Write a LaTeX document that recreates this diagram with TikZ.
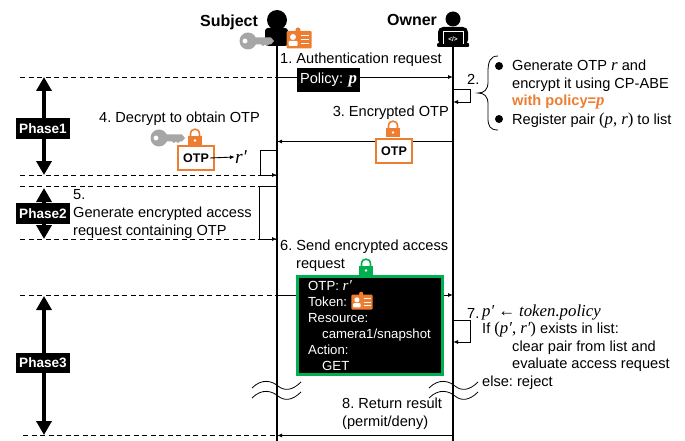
\documentclass[tikz,border=0pt]{standalone}
\usepackage{fontspec}
\setmainfont{Liberation Sans}
\newfontfamily\varfont[Scale=1.15]{Liberation Serif}
\usetikzlibrary{arrows.meta,positioning}

\newcommand{\mvar}[1]{{\varfont\itshape #1}}
\newcommand{\mrm}[1]{{\varfont #1}}

\definecolor{otporange}{HTML}{ED7D31}
\definecolor{reqgreen}{HTML}{00B050}
\definecolor{keygray}{HTML}{A6A6A6}

\tikzset{
    pics/lockpic/.style={code={
        \draw[#1,line width=1.6pt] (-4.5,0) -- (-4.5,-3) .. controls (-4.5,-9.5) and (4.5,-9.5) .. (4.5,-3) -- (4.5,0);
        \fill[#1] (-7,-1) rectangle (7,8);
        \fill[white] (0,3.5) circle (1.3);
    }},
    pics/keypic/.style={code={
        \fill[keygray,even odd rule] (0,0) circle (8.5) (-3,0) circle (2.6);
        \fill[keygray] (6,-3.5) -- (23,-3.5) -- (26,0) -- (23,3.5) -- (21,3.5) -- (19,5) -- (17,3.5) -- (15,5) -- (13,3.5) -- (6,3.5) -- cycle;
    }},
    pics/cardpic/.style={code={
        \fill[otporange,rounded corners=1pt] (-12.5,-8) rectangle (12.5,9.5);
        \fill[otporange] (-1,-9) circle (2.5);
        \fill[white] (-6,-2) circle (3);
        \fill[white,rounded corners=1pt] (-10.5,7) rectangle (-1.5,2);
        \draw[white,line width=1pt] (2,-3) -- (10,-3) (2,1) -- (10,1) (2,5) -- (10,5);
    }},
    pics/wavepic/.style={code={
        \draw[line width=.8pt] (-25,3) .. controls (-15,-7) and (-5,-4) .. (1,1) .. controls (7,6) and (15,6) .. (24,-3);
        \draw[line width=.8pt] (-25,13) .. controls (-15,3) and (-5,6) .. (1,11) .. controls (7,16) and (15,16) .. (24,7);
    }}
}

\begin{document}
\begin{tikzpicture}[
        x = 1pt, y = -1pt, % same units as the reference
        > = {Latex[length=5pt,width=4pt]},
        lifeline/.style = {line width=2.2pt},
        msg/.style = {line width=.9pt},
        phaseline/.style = {dashed,dash pattern=on 5pt off 3.5pt,line width=.8pt},
        phasearrow/.style = {line width=3.5pt,{Triangle[width=15pt,length=14pt]}-{Triangle[width=15pt,length=14pt]}},
        phaselabel/.style = {fill=black,text=white,font=\fontsize{13.6}{15}\selectfont\bfseries,minimum width=54pt,minimum height=20.5pt,inner sep=0pt},
        txt/.style = {anchor=west,inner sep=0pt,align=left,font=\fontsize{14.6}{17.6}\selectfont\frenchspacing},
        actor/.style = {inner sep=0pt,font=\fontsize{16}{18}\selectfont\bfseries},
        otpbox/.style = {draw=otporange,line width=1.5pt,fill=white,minimum width=36pt,minimum height=24pt,inner sep=0pt,font=\fontsize{12.5}{15}\selectfont\bfseries}
    ]

    \useasboundingbox (0,0) rectangle (685,441);

    % lifelines
    \coordinate (subjtop) at (277,46);
    \coordinate (subjend) at (277,441);
    \coordinate (owntop) at (453,46);
    \coordinate (ownend) at (453,441);
    \draw[lifeline] (subjtop) -- (subjend);
    \draw[lifeline] (owntop) -- (ownend);

    \node[actor] (subject) at (229,22) {Subject};
    \node[actor] (owner) at (412,20) {Owner};

    % subject icon
    \fill (277,20) circle (10);
    \fill[rounded corners=3pt] (265,46) -- (265,28) -- (288,28) -- (288,46) -- cycle;
    \pic at (248,41) {keypic};
    \pic at (299,39) {cardpic};

    % owner icon
    \fill (453,19) circle (7.5);
    \fill[rounded corners=5pt] (438,45) -- (438,27) -- (468,27) -- (468,45) -- cycle;
    \fill[rounded corners=1pt] (437,43) rectangle (469,47);
    \draw[white,line width=.7pt] (443,44) -- (443,31) -- (463,31) -- (463,44);
    \node[text=white,inner sep=0pt,font=\fontsize{6.5}{7}\selectfont\bfseries] (code) at (453,39) {</>};

    % phase borders
    \coordinate (p1a) at (20,77);
    \coordinate (p1b) at (20,175);
    \coordinate (p2a) at (20,186);
    \coordinate (p2b) at (20,239);
    \coordinate (p3a) at (20,295);
    \coordinate (p3b) at (23,435.5);
    \coordinate (s1) at (277,77);
    \coordinate (s4a) at (277,150);
    \coordinate (s4b) at (277,175);
    \coordinate (s5a) at (277,186);
    \coordinate (s5b) at (277,239);
    \coordinate (s6) at (277,295);
    \coordinate (s3) at (277,141.5);
    \coordinate (s8) at (277,435.5);
    \coordinate (o1) at (453,77);
    \coordinate (o2a) at (453,89);
    \coordinate (o2b) at (453,102);
    \coordinate (o3) at (453,141.5);
    \coordinate (o6) at (453,295);
    \coordinate (o7a) at (453,320);
    \coordinate (o7b) at (453,342);
    \coordinate (o8) at (453,435.5);

    \draw[phaseline] (p1a) -- (s1);
    \draw[phaseline] (p1b) -- (s4b);
    \draw[phaseline] (p2a) -- (s5a);
    \draw[phaseline] (p2b) -- (s5b);
    \draw[phaseline] (p3a) -- (s6);
    \draw[phaseline] (p3b) -- (s8);

    % phase arrows
    \coordinate (a1) at (44,77);
    \coordinate (b1) at (44,175);
    \coordinate (a2) at (44,188);
    \coordinate (b2) at (44,239);
    \coordinate (a3) at (44,296);
    \coordinate (b3) at (44,435);
    \draw[phasearrow] (a1) -- (b1);
    \draw[phasearrow] (a2) -- (b2);
    \draw[phasearrow] (a3) -- (b3);
    \node[phaselabel] (phase1) at (43,128.5) {Phase1};
    \node[phaselabel] (phase2) at (43,213.5) {Phase2};
    \node[phaselabel] (phase3) at (43,363) {Phase3};

    % messages
    \draw[msg,->] (s1) -- (o1);
    \draw[msg,->] (o2a) -- ++(17.5,0) |- (o2b);
    \draw[msg,->] (o3) -- (s3);
    \draw[msg,->] (s4a) -- ++(-17,0) |- (s4b);
    \draw[msg,->] (s5a) -- ++(-18,0) |- (s5b);
    \draw[msg,->] (s6) -- (o6);
    \draw[msg,->] (o7a) -- ++(17.5,0) |- (o7b);
    \draw[msg,->] (o8) -- (s8);

    \node[txt] (m1) at (280,60) {1. Authentication request};
    \node[fill=black,text=white,minimum width=63pt,minimum height=24pt,inner sep=0pt,font=\fontsize{14.6}{15}\selectfont] (policy) at (328.5,80) {Policy: {\bfseries\mvar{p}}};

    % step 2
    \node[txt] (m2) at (467,79) {2.};
    \draw[line width=.8pt] (498,56) .. controls (490,56) and (488,62) .. (488,72) -- (488,82) .. controls (488,90) and (484,93) .. (478,93) .. controls (484,93) and (488,96) .. (488,104) -- (488,118) .. controls (488,126) and (490,130) .. (498,130);
    \node[circle,fill=black,minimum size=8pt,inner sep=0pt] (bul1) at (499,66) {};
    \node[circle,fill=black,minimum size=8pt,inner sep=0pt] (bul2) at (499,119) {};
    \node[txt] (gen) at (512,84.5) {Generate OTP \mvar{r} and\\encrypt it using CP-ABE\\\textcolor{otporange}{\textbf{with policy=\mvar{p}}}};
    \node[txt] (reg) at (512,120) {Register pair \mrm{(}\mvar{p}\mrm{,} \mvar{r}\mrm{)} to list};

    % step 3
    \node[txt,anchor=east] (m3) at (449,113) {3. Encrypted OTP};
    \pic at (393,129) {lockpic=otporange};
    \node[otpbox] (otp3) at (394,151) {OTP};

    % step 4
    \node[txt] (m4) at (99,119) {4. Decrypt to obtain OTP};
    \pic at (159,138) {keypic};
    \pic at (195,137) {lockpic=otporange};
    \node[otpbox] (otp4) at (196,158) {OTP};
    \node[inner sep=0pt,font=\fontsize{17}{19}\selectfont] (rprime) at (241,157) {\mvar{r′}};
    \draw[msg,->] (otp4.center) ++(14,0) -- (rprime.west);

    % step 5
    \node[txt] (m5) at (73,214) {5.\\Generate encrypted access\\request containing OTP};

    % step 6
    \node[txt] (m6) at (280,256) {6. Send encrypted access\\\hspace*{16pt}request};
    \pic at (366,267) {lockpic=reqgreen};
    \node[draw=reqgreen,line width=3pt,fill=black,minimum width=145pt,minimum height=98pt,inner sep=0pt] (reqbox) at (369.5,325) {};
    \node[txt,text=white,font=\fontsize{13.2}{15.9}\selectfont] (reqtxt) at (308,325.5) {OTP: \mvar{r′}\\Token:\\Resource:\\\hspace*{14pt}camera1/snapshot\\Action:\\\hspace*{14pt}GET};
    \pic[scale=.85] at (362,301.5) {cardpic};

    % step 7
    \node[txt] (m7) at (467,313) {7.};
    \node[txt] (cond) at (482,347) {\mvar{p′} \mrm{←} \mvar{token.policy}\\If \mrm{(}\mvar{p′}\mrm{,} \mvar{r′}\mrm{)} exists in list:\\\hspace*{30pt}clear pair from list and\\\hspace*{30pt}evaluate access request\\else: reject};

    % breaks
    \pic at (277,385) {wavepic};
    \pic at (454,385) {wavepic};

    % step 8
    \node[txt] (m8) at (342,414) {8. Return result\\(permit/deny)};

\end{tikzpicture}
\end{document}
